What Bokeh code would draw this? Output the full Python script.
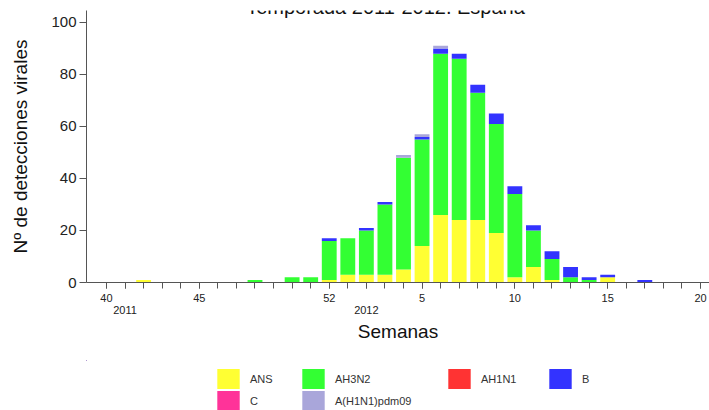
from bokeh.plotting import figure
from bokeh.layouts import column
from bokeh.models import ColumnDataSource, Range1d, FixedTicker, Legend, LegendItem, Label
from bokeh.embed import file_html
from bokeh.resources import INLINE

# ---- data ----
weeks = ["40", "41", "42", "43", "44", "45", "46", "47", "48", "49", "50", "51", "52",
         "1", "2", "3", "4", "5", "6", "7", "8", "9", "10", "11", "12", "13", "14",
         "15", "16", "17", "18", "19", "20"]
tick_weeks = ["40", "45", "52", "5", "10", "15", "20"]
year_weeks = ["41", "2"]
year_labels = ["2011", "2012"]

ans = [0, 0, 1, 0, 0, 0, 0, 0, 0, 0, 0, 0, 1,
       3, 3, 3, 5, 14, 26, 24, 24, 19, 2, 6, 1, 0, 0, 2, 0, 0, 0, 0, 0]
ah3n2 = [0, 0, 0, 0, 0, 0, 0, 0, 1, 0, 2, 2, 15,
         14, 17, 27, 43, 41, 62, 62, 49, 42, 32, 14, 8, 2, 1, 0, 0, 0, 0, 0, 0]
ah1n1 = [0] * 33
b = [0, 0, 0, 0, 0, 0, 0, 0, 0, 0, 0, 0, 1,
     0, 1, 1, 0, 1, 2, 2, 3, 4, 3, 2, 3, 4, 1, 1, 0, 1, 0, 0, 0]
c = [0] * 33
pdm09 = [0, 0, 0, 0, 0, 0, 0, 0, 0, 0, 0, 0, 0,
         0, 0, 0, 1, 1, 1, 0, 0, 0, 0, 0, 0, 0, 0, 0, 0, 0, 0, 0, 0]

series_names = ["ANS", "AH3N2", "AH1N1", "B", "C", "A(H1N1)pdm09"]
series_values = [ans, ah3n2, ah1n1, b, c, pdm09]
colors = ["#FFFF33", "#33FF33", "#FF3333", "#3333FF", "#FF3399", "#A9A6DA"]
y_ticks = [0, 20, 40, 60, 80, 100]

FONT = "Liberation Sans"

x = list(range(len(weeks)))
data = {"x": x}
for n, v in zip(series_names, series_values):
    data[n] = v
src = ColumnDataSource(data)

p = figure(width=709, height=360,
           x_range=Range1d(-1.077, 32.485), y_range=Range1d(0, 104.6),
           output_backend="svg", toolbar_location=None,
           min_border_left=86, min_border_right=0,
           min_border_top=10, min_border_bottom=78)
p.outline_line_color = None
p.grid.visible = False
p.background_fill_color = "white"
p.border_fill_color = "white"

rs = p.vbar_stack(series_names, x="x", width=0.8, source=src,
                  fill_color=colors, line_color=None)

# ---- x axis ----
major = [weeks.index(w) for w in tick_weeks] + [weeks.index(w) for w in year_weeks]
overrides = {weeks.index(w): w for w in tick_weeks}
for w, yl in zip(year_weeks, year_labels):
    overrides[weeks.index(w)] = "\n" + yl
xa = p.xaxis[0]
xa.ticker = FixedTicker(ticks=sorted(major), minor_ticks=x)
xa.major_label_overrides = overrides
xa.major_tick_in = 0
xa.major_tick_out = 6
xa.minor_tick_in = 0
xa.minor_tick_out = 6
xa.axis_line_color = "#555555"
xa.major_tick_line_color = "#555555"
xa.minor_tick_line_color = "#555555"
xa.major_label_standoff = 3
xa.major_label_text_font = FONT
xa.major_label_text_font_size = "11px"
xa.major_label_text_line_height = 1.0
xa.major_label_text_color = "#222222"
xa.axis_label = "Semanas"
xa.axis_label_text_font = FONT
xa.axis_label_text_font_size = "19px"
xa.axis_label_text_font_style = "normal"
xa.axis_label_text_color = "#111111"
xa.axis_label_standoff = 2

# ---- y axis ----
ya = p.yaxis[0]
ya.ticker = FixedTicker(ticks=y_ticks, minor_ticks=[])
ya.major_tick_in = 0
ya.major_tick_out = 7
ya.minor_tick_line_color = None
ya.axis_line_color = "#555555"
ya.major_tick_line_color = "#555555"
ya.major_label_standoff = 3
ya.major_label_text_font = FONT
ya.major_label_text_font_size = "15px"
ya.major_label_text_color = "#222222"
ya.axis_label = "Nº de detecciones virales"
ya.axis_label_text_font = FONT
ya.axis_label_text_font_size = "19px"
ya.axis_label_text_font_style = "normal"
ya.axis_label_text_color = "#111111"
ya.axis_label_standoff = 17

# ---- title (partly cut off at top, as in the reference) ----
p.add_layout(Label(x=299, y=276, x_units="screen", y_units="screen",
                   text="Temporada 2011-2012. España", text_align="center",
                   text_baseline="alphabetic", text_font=FONT,
                   text_font_size="20px", text_color="#111111"))

# ---- legend in its own strip below the chart ----
lf = figure(width=709, height=50, x_range=Range1d(1000, 1001), y_range=Range1d(-1001, -1000),
            output_backend="svg", toolbar_location=None,
            x_axis_type=None, y_axis_type=None,
            min_border_left=0, min_border_right=0, min_border_top=0, min_border_bottom=0)
lf.outline_line_color = None
lf.grid.visible = False

# proxies for legend swatches: real series, zero width, outside this strip's ranges
legend_locs = [(128, 19), (213, 19), (359, 19), (460, 19),
               (128, -3), (213, -3)]
for name, col, loc in zip(series_names, colors, legend_locs):
    r = lf.vbar(x="x", top=name, width=0, fill_color=col, line_color=None, source=src)
    lg = Legend(items=[LegendItem(label=name, renderers=[r])], location=loc,
                orientation="horizontal", padding=0, margin=0, spacing=0,
                glyph_width=28, glyph_height=25, label_height=25,
                label_standoff=8, border_line_color=None,
                background_fill_alpha=0, label_text_font=FONT,
                label_text_font_size="11px", label_text_color="#333333")
    lf.add_layout(lg, "center")

layout = column(p, lf, spacing=0)
open("out.html", "w").write(file_html(layout, INLINE))
